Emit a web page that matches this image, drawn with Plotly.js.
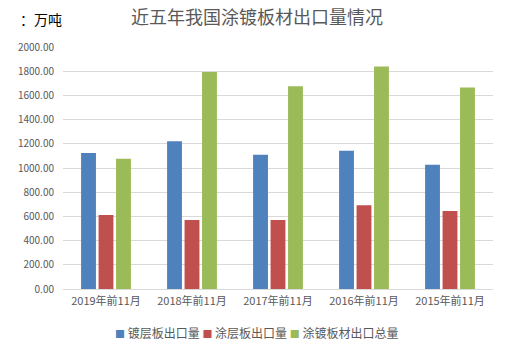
<!DOCTYPE html>
<html>
<head>
<meta charset="utf-8">
<script src="https://cdn.plot.ly/plotly-3.0.1.min.js"></script>
<style>html,body{margin:0;padding:0;background:#fff;}#chart{width:519px;height:354px;}</style>
</head>
<body>
<div id="chart"></div>
<script>
const categories = ["2019年前11月", "2018年前11月", "2017年前11月", "2016年前11月", "2015年前11月"];
const seriesNames = ["镀层板出口量", "涂层板出口量", "涂镀板材出口总量"];
const platedExport = [1123, 1222, 1109, 1142, 1027];
const coatedExport = [611, 570, 570, 693, 644];
const totalExport = [1077, 1793, 1675, 1838, 1665];
const yTickVals = [0, 200, 400, 600, 800, 1000, 1200, 1400, 1600, 1800, 2000];

const font = '"Noto Sans CJK SC", "Microsoft YaHei", sans-serif';
const colors = ["#4f81bd", "#c0504d", "#9bbb59"];
const values = [platedExport, coatedExport, totalExport];

const data = values.map((v, i) => ({
  type: "bar",
  x: categories,
  y: v,
  name: seriesNames[i],
  marker: {color: colors[i]},
  showlegend: false
}));

const legendText = seriesNames.map((n, i) =>
  '<span style="color:' + colors[i] + ';font-size:10px">■</span> ' + n).join(' ');

const layout = {
  width: 519, height: 354,
  margin: {l: 63, r: 26, t: 47, b: 65, autoexpand: false},
  paper_bgcolor: "#fff", plot_bgcolor: "#fff",
  title: {text: "近五年我国涂镀板材出口量情况", x: 0.495, xanchor: "center", y: 0.95, yanchor: "middle",
          font: {family: font, size: 18, color: "#595959"}},
  bargap: 0.39, bargroupgap: 0.15,
  xaxis: {tickfont: {family: font, size: 11, color: "#595959"}, showgrid: false, showline: false, ticks: "",
          ticklabelstandoff: 4, fixedrange: true, automargin: false},
  yaxis: {range: [0, 2000], tickvals: yTickVals, tickformat: ".2f", tickfont: {family: font, size: 10, color: "#595959"},
          gridcolor: "#d9d9d9", gridwidth: 1, zeroline: true, zerolinecolor: "#d9d9d9", zerolinewidth: 1,
          showline: false, ticks: "", ticklabelstandoff: 8, fixedrange: true, automargin: false},
  annotations: [
    {text: "：万吨", xref: "paper", yref: "paper", x: -0.104, y: 1.115, xanchor: "left", yanchor: "middle",
     showarrow: false, font: {family: font, size: 14, color: "#000"}},
    {text: legendText, xref: "paper", yref: "paper", x: 0.45, y: -0.178, xanchor: "center", yanchor: "middle",
     showarrow: false, font: {family: font, size: 12, color: "#595959"}}
  ]
};

Plotly.newPlot("chart", data, layout, {displayModeBar: false, staticPlot: true});
</script>
</body>
</html>
